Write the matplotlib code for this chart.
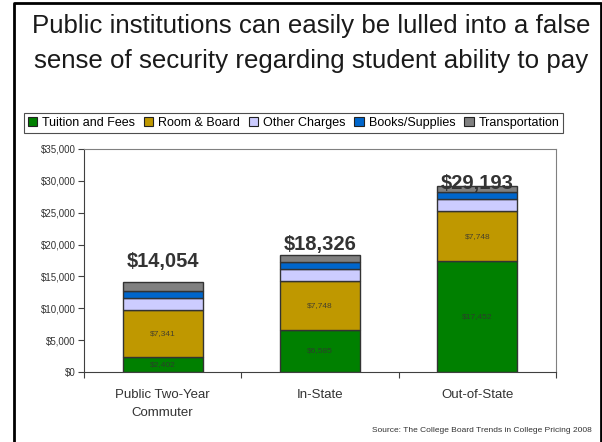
import matplotlib.pyplot as plt
from matplotlib.patches import Patch
from matplotlib.lines import Line2D

plt.rcParams['font.family'] = ['Liberation Sans', 'DejaVu Sans']

categories = ["Public Two-Year\nCommuter", "In-State", "Out-of-State"]
series_names = ["Tuition and Fees", "Room & Board", "Other Charges",
                "Books/Supplies", "Transportation"]
tuition = [2402, 6585, 17452]
room_board = [7341, 7748, 7748]
other = [1895, 1900, 1900]
books = [1036, 1077, 1077]
transport = [1380, 1016, 1016]
totals = [14054, 18326, 29193]
yticks = [0, 5000, 10000, 15000, 20000, 25000, 30000, 35000]

colors = ["#008000", "#BF9800", "#CCCCFF", "#0066CC", "#808080"]
label_offsets = [15, 8, 1.5]  # points above bar top, as placed on the slide

W, H = 602, 442
fig = plt.figure(figsize=(W / 100, H / 100), dpi=100)


def fx(px):
    return px / W


def fy(py):
    return 1 - py / H


# slide frame
fig.add_artist(Line2D([fx(13.5), fx(13.5), fx(600.5), fx(600.5)],
                      [0, fy(2.5), fy(2.5), 0], color="black", lw=2.0,
                      transform=fig.transFigure))

fig.text(fx(311), fy(33), "Public institutions can easily be lulled into a false",
         ha="center", va="baseline", fontsize=18.6, color="#1a1a1a")
fig.text(fx(311), fy(68), "sense of security regarding student ability to pay",
         ha="center", va="baseline", fontsize=18.6, color="#1a1a1a")

ax = fig.add_axes([fx(84), fy(372), fx(556 - 84), (372 - 149) / H])
x = range(len(categories))
series = [tuition, room_board, other, books, transport]
bottom = [0, 0, 0]
for vals, c in zip(series, colors):
    ax.bar(x, vals, width=0.51, bottom=bottom, color=c,
           edgecolor="#333333", linewidth=1.0)
    bottom = [b + v for b, v in zip(bottom, vals)]

for i in x:
    ax.text(i, tuition[i] / 2, f"${tuition[i]:,}", ha="center", va="center",
            fontsize=6, color="#333333", alpha=0.85)
    ax.text(i, tuition[i] + room_board[i] / 2, f"${room_board[i]:,}",
            ha="center", va="center", fontsize=6, color="#333333", alpha=0.85)
    ax.annotate(f"${totals[i]:,}", (i, bottom[i]), xytext=(0, label_offsets[i]),
                textcoords="offset points", ha="center", va="center",
                fontsize=14.5, fontweight="bold", color="#333333")

ax.set_xlim(-0.5, 2.5)
ax.set_ylim(0, 35000)
ax.set_yticks(yticks)
ax.set_yticklabels([f"${v:,}" for v in yticks], fontsize=7, color="#333333")
ax.set_xticks([-0.5, 0.5, 1.5, 2.5])
ax.set_xticklabels([])
ax.set_xticks(list(x), minor=True)
ax.set_xticklabels(categories, minor=True, fontsize=9.5, color="#333333",
                   linespacing=1.7)
ax.tick_params(axis="x", which="minor", length=0, pad=12)
ax.tick_params(axis="x", which="major", length=4, color="#404040", direction="out")
ax.tick_params(axis="y", length=4, color="#404040", direction="out", pad=2)
for s in ["left", "bottom"]:
    ax.spines[s].set_color("#404040")
for s in ["top", "right"]:
    ax.spines[s].set_color("#808080")

handles = [Patch(facecolor=c, edgecolor="#222222", linewidth=0.8) for c in colors]
leg = fig.legend(handles, series_names, loc="center", ncol=5,
                 bbox_to_anchor=(fx(293.5), fy(123)), fontsize=9,
                 handlelength=0.75, handleheight=0.75, handletextpad=0.4,
                 columnspacing=0.7, frameon=True, fancybox=False,
                 borderpad=0.3, borderaxespad=0)
leg.get_frame().set_edgecolor("#222222")
leg.get_frame().set_linewidth(0.8)

fig.text(fx(592), fy(430), "Source: The College Board Trends in College Pricing 2008",
         ha="right", va="center", fontsize=6.0, color="#333333")

fig.savefig("out.png", dpi=100)
